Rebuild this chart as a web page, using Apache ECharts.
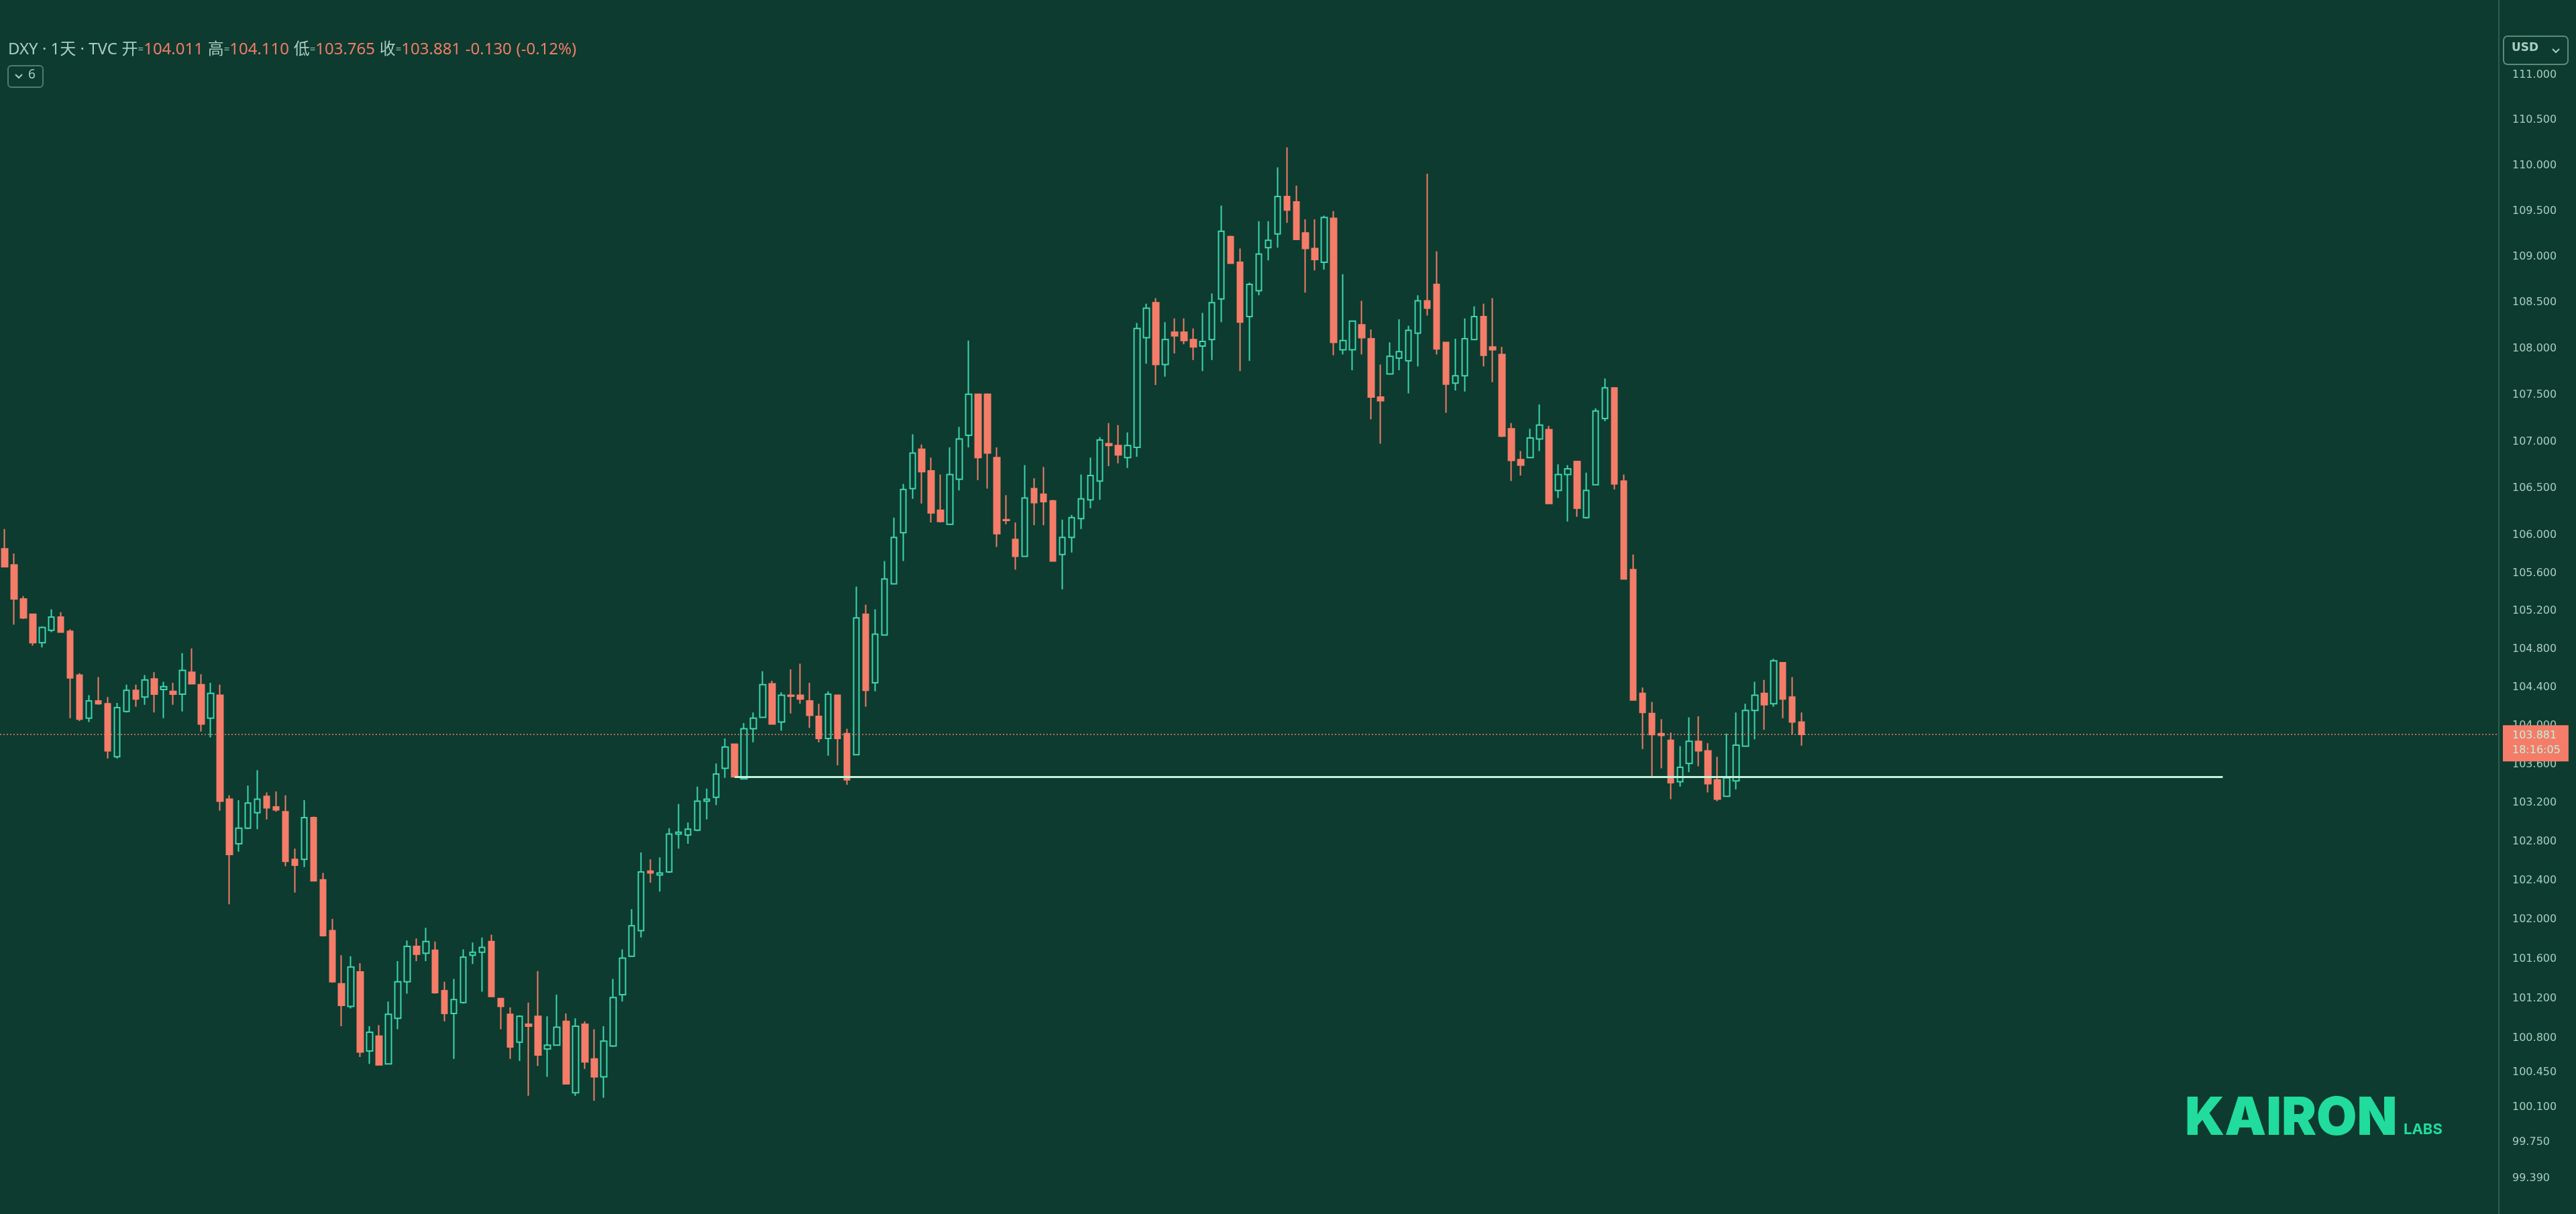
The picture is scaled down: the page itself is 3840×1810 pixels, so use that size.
<!DOCTYPE html>
<html>
<head>
<meta charset="utf-8">
<script src="https://cdn.jsdelivr.net/npm/echarts@6/dist/echarts.min.js"></script>
<style>
html,body{margin:0;padding:0;background:#0d3b2f;}
#chart{width:3840px;height:1810px;}
</style>
</head>
<body>
<div id="chart"></div>
<script>
// ---- Data (DXY daily) ----
const opens = [105.83,105.66,105.30,105.14,104.84,104.97,105.11,104.96,104.50,104.05,104.23,104.20,103.65,104.12,104.34,104.27,104.46,104.35,104.33,104.30,104.53,104.40,104.05,104.29,103.21,102.75,102.91,103.07,103.24,103.13,103.08,102.59,102.59,103.02,102.38,101.86,101.32,101.09,101.44,100.64,100.79,100.51,100.97,101.34,101.70,101.63,101.66,101.25,101.02,101.13,101.61,101.64,101.75,101.17,101.01,100.73,100.91,100.99,100.66,100.70,100.94,100.22,100.91,100.56,100.38,100.69,101.21,101.60,101.86,102.47,102.43,102.46,102.85,102.84,102.89,103.19,103.23,103.53,103.78,103.42,103.94,104.06,104.41,104.01,104.29,104.29,104.23,104.07,103.84,104.29,103.89,103.67,105.14,104.42,104.92,105.46,106.00,106.47,106.89,106.66,106.24,106.09,106.57,107.04,107.48,107.48,106.80,106.14,105.93,105.75,106.47,106.41,106.34,105.77,105.95,106.15,106.35,106.55,106.95,106.93,106.80,106.91,108.09,108.47,107.80,108.15,108.15,108.07,108.00,108.07,108.51,109.19,108.91,108.32,108.60,109.07,109.22,109.63,109.57,109.23,109.06,108.91,109.39,107.96,107.96,108.23,108.08,107.45,107.70,107.87,107.84,108.14,108.49,108.67,108.04,107.60,107.68,108.07,108.32,107.99,107.91,107.11,106.78,106.80,107.00,107.10,106.45,106.62,106.76,106.16,106.51,107.22,107.55,106.55,105.61,104.31,104.10,103.89,103.82,103.39,103.58,103.81,103.71,103.41,103.24,103.40,103.76,104.13,104.31,104.20,104.63,104.27,104.011];
const highs = [106.04,105.78,105.33,105.14,105.01,105.19,105.16,104.98,104.52,104.29,104.48,104.27,104.21,104.40,104.40,104.50,104.53,104.43,104.42,104.73,104.78,104.51,104.42,104.40,103.25,103.20,103.35,103.51,103.28,103.29,103.25,102.70,103.20,103.03,102.45,101.98,101.61,101.60,101.53,100.89,100.90,101.14,101.55,101.76,101.78,101.89,101.75,101.34,101.37,101.67,101.74,101.79,101.82,101.17,101.08,101.00,101.13,101.45,100.99,101.21,101.02,100.97,100.94,100.86,100.89,101.37,101.67,102.08,102.66,102.59,102.61,102.91,103.16,102.97,103.34,103.32,103.58,103.84,103.78,104.00,104.11,104.54,104.44,104.32,104.56,104.62,104.42,104.20,104.33,104.29,103.94,105.43,105.24,105.19,105.70,106.16,106.52,107.05,106.94,106.80,106.62,106.91,107.13,108.06,107.48,107.49,106.91,106.40,106.11,106.72,106.58,106.70,106.35,106.14,106.19,106.62,106.80,107.02,107.17,107.15,107.07,108.25,108.46,108.52,108.26,108.30,108.30,108.19,108.36,108.57,109.53,109.20,109.06,108.69,109.36,109.36,109.95,110.17,109.75,109.38,109.38,109.42,109.47,108.78,108.27,108.49,108.18,107.80,108.04,108.29,108.22,108.55,109.88,109.03,108.04,108.08,108.30,108.43,108.46,108.52,107.99,107.17,106.87,107.11,107.37,107.14,106.73,106.72,106.76,106.64,107.33,107.65,107.55,106.62,105.77,104.37,104.22,104.04,103.90,103.76,104.06,104.07,103.79,103.65,103.89,104.11,104.20,104.43,104.45,104.67,104.63,104.48,104.110];
const lows = [105.64,105.03,105.09,104.81,104.79,104.95,104.95,104.05,104.02,104.01,104.19,103.63,103.63,104.11,104.17,104.19,104.11,104.05,104.19,104.12,104.41,103.91,103.85,103.09,102.13,102.67,102.90,102.90,103.00,103.08,102.52,102.25,102.51,102.37,101.80,101.33,100.89,101.07,100.58,100.51,100.50,100.51,100.86,101.22,101.55,101.55,101.22,100.94,100.56,101.12,101.52,101.24,101.19,100.86,100.56,100.54,100.19,100.49,100.38,100.70,100.31,100.19,100.46,100.14,100.17,100.68,101.14,101.60,101.79,102.35,102.26,102.45,102.70,102.75,102.88,103.00,103.15,103.43,103.44,103.42,103.80,104.06,103.99,103.92,104.10,104.20,103.95,103.80,103.66,103.56,103.36,103.67,104.17,104.33,104.92,105.46,105.70,106.36,106.31,106.11,106.11,106.09,106.45,106.91,106.56,106.47,105.85,106.09,105.61,105.75,106.08,106.08,105.70,105.40,105.79,106.04,106.26,106.35,106.71,106.74,106.69,106.81,107.81,107.58,107.67,107.92,108.02,107.85,107.73,107.85,108.26,108.90,107.73,107.84,108.55,108.93,109.07,109.34,109.16,108.58,108.82,108.83,107.90,107.91,107.74,107.91,107.21,106.95,107.69,107.74,107.49,107.78,108.33,107.91,107.28,107.52,107.51,108.07,107.78,107.61,107.02,106.55,106.61,106.80,106.87,106.31,106.37,106.12,106.17,106.15,106.51,107.19,106.46,105.51,104.24,103.73,103.44,103.53,103.21,103.34,103.49,103.55,103.28,103.19,103.24,103.31,103.76,103.83,103.93,104.17,104.05,103.88,103.765];
const closes = [105.64,105.30,105.10,104.84,105.00,105.11,104.95,104.47,104.04,104.23,104.20,103.71,104.16,104.34,104.25,104.45,104.30,104.38,104.30,104.55,104.41,103.99,104.31,103.19,102.64,102.91,103.17,103.21,103.12,103.10,102.57,102.53,103.02,102.37,101.81,101.34,101.10,101.49,100.63,100.83,100.50,101.01,101.34,101.70,101.62,101.75,101.23,101.02,101.16,101.59,101.64,101.69,101.19,101.09,100.68,100.99,100.89,100.60,100.70,100.88,100.31,100.89,100.53,100.38,100.74,101.18,101.58,101.91,102.46,102.45,102.45,102.85,102.87,102.90,103.19,103.21,103.47,103.75,103.44,103.94,104.05,104.40,103.99,104.29,104.28,104.25,104.08,103.84,104.30,103.84,103.41,105.10,104.34,104.93,105.51,105.95,106.46,106.85,106.65,106.21,106.12,106.62,107.00,107.48,106.80,106.85,105.99,106.13,105.75,106.37,106.32,106.33,105.70,105.95,106.16,106.36,106.61,106.99,106.93,106.83,106.93,108.19,108.41,107.80,108.07,108.11,108.06,107.99,108.05,108.47,109.25,108.90,108.26,108.67,109.00,109.15,109.63,109.48,109.16,109.06,108.94,109.40,108.04,108.06,108.27,108.09,107.45,107.41,107.89,107.94,108.17,108.49,108.41,107.97,107.59,107.68,108.08,108.32,107.90,107.96,107.03,106.77,106.72,107.01,107.15,106.31,106.62,106.68,106.26,106.45,107.30,107.55,106.52,105.51,104.24,104.11,103.88,103.87,103.38,103.54,103.81,103.71,103.37,103.21,103.43,103.77,104.13,104.29,104.19,104.65,104.25,104.011,103.881];

const totalSlots = 267;                 // bars shown + empty space to the right
const priceTicks = [111, 110.5, 110, 109.5, 109, 108.5, 108, 107.5, 107, 106.5, 106, 105.6, 105.2, 104.8, 104.4, 104, 103.6, 103.2, 102.8, 102.4, 102, 101.6, 101.2, 100.8, 100.45, 100.1, 99.75, 99.39];
const lastPrice = 103.881;
const lastTime = '18:16:05';
const supportLevel = 103.443;
const supportFrom = 78, supportTo = 237;
const yMin = 99.011, yMax = 111.808;

// ---- Styling ----
const BG = '#0d3b2f';
const BULL = '#3dd6b0';
const BEAR = '#f47c69';
const TXT = '#a9cdbf';

const categories = Array.from({length: totalSlots}, (_, i) => 'D' + (i + 1));
const candleData = opens.map((o, i) => [o, closes[i], lows[i], highs[i]]);

const tickMarks = priceTicks.map(v => ({
  yAxis: v,
  lineStyle: {color: 'rgba(0,0,0,0)', width: 0, type: 'solid'},
  label: {show: true, position: 'end', distance: 20, offset: [0, 4], color: TXT,
          fontFamily: 'DejaVu Sans', fontSize: 16,
          formatter: () => v.toFixed(3)}
}));

const chart = echarts.init(document.getElementById('chart'), null, {renderer: 'canvas'});
chart.setOption({
  backgroundColor: BG,
  animation: false,
  grid: {left: 0, right: 115, top: 0, bottom: 0},
  xAxis: {type: 'category', data: categories, boundaryGap: true, show: false},
  yAxis: {
    type: 'log', logBase: 10, min: yMin, max: yMax, position: 'right',
    axisLine: {show: true, lineStyle: {color: '#2f5d4f', width: 2}},
    axisTick: {show: false}, axisLabel: {show: false}, splitLine: {show: false}
  },
  series: [{
    type: 'candlestick',
    data: candleData,
    barWidth: 9,
    itemStyle: {color: BG, color0: BEAR, borderColor: BULL, borderColor0: BEAR, borderWidth: 2},
    markLine: {
      silent: true, symbol: ['none', 'none'], animation: false,
      data: tickMarks.concat([
        [{coord: [categories[supportFrom], supportLevel]}, {coord: [categories[supportTo], supportLevel]}],
        {
          yAxis: lastPrice,
          lineStyle: {color: BEAR, type: [2, 3], width: 1.5, opacity: 1},
          label: {show: true, position: 'end', distance: 6, offset: [0, 13],
                  formatter: lastPrice.toFixed(3) + '\n' + lastTime,
                  backgroundColor: BEAR, color: '#bff0d8', fontFamily: 'DejaVu Sans', fontSize: 16,
                  lineHeight: 22, padding: [5, 12, 5, 14]}
        }
      ]),
      lineStyle: {color: '#c4f2dc', width: 3, type: 'solid'},
      label: {show: false}
    }
  }],
  graphic: [
    {type: 'text', left: 12, top: 62, z: 10, style: {
      text: '{a|DXY · 1天 · TVC}  {a|开}{e|=}{v|104.011}  {a|高}{e|=}{v|104.110}  {a|低}{e|=}{v|103.765}  {a|收}{e|=}{v|103.881}  {v|-0.130}  {v|(-0.12%)}',
      rich: {
        a: {fill: TXT, fontSize: 24, fontFamily: "'Noto Sans', 'Noto Sans CJK SC'"},
        e: {fill: TXT, fontSize: 15, fontFamily: "'Noto Sans'"},
        v: {fill: BEAR, fontSize: 24, fontFamily: "'Noto Sans'"}
      }
    }},
    {type: 'rect', shape: {x: 12, y: 98, width: 52, height: 32, r: 5}, style: {fill: 'none', stroke: '#4f7d6c', lineWidth: 2}},
    {type: 'polyline', shape: {points: [[23, 111], [28, 116], [33, 111]]}, style: {stroke: TXT, lineWidth: 2, fill: 'none'}},
    {type: 'text', left: 42, top: 102, style: {text: '6', fill: TXT, fontSize: 19, fontFamily: "'Noto Sans'"}},
    {type: 'rect', z: 100, shape: {x: 3732, y: 54, width: 96, height: 42, r: 6}, style: {fill: BG, stroke: '#5a8c78', lineWidth: 2}},
    {type: 'text', z: 101, left: 3744, top: 63, style: {text: 'USD', fill: TXT, fontSize: 17, fontWeight: 'bold', fontFamily: "'DejaVu Sans'"}},
    {type: 'polyline', z: 101, shape: {points: [[3805, 73], [3810, 78], [3815, 73]]}, style: {stroke: TXT, lineWidth: 2, fill: 'none'}},
    {type: 'text', left: 3257, top: 1630, style: {text: 'KAIRON', fill: '#21dc9c', fontSize: 78, fontWeight: 900, fontFamily: 'Inter'}},
    {type: 'text', left: 3583, top: 1673, style: {text: 'LABS', fill: '#21dc9c', fontSize: 22, fontWeight: 'bold', fontFamily: 'Inter'}}
  ]
});
</script>
</body>
</html>
